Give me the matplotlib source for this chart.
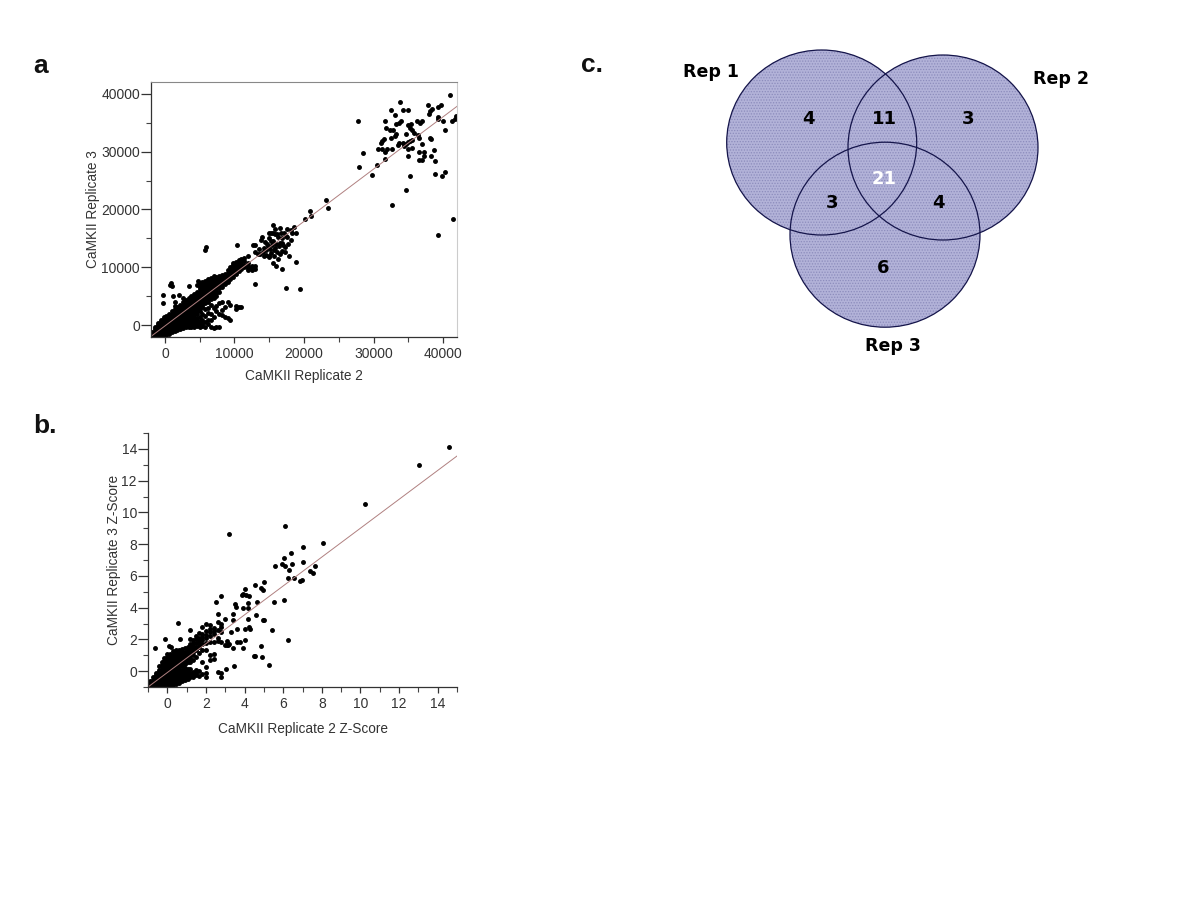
#Scatter plots of CaMKII replicates with Venn diagram of hits

import matplotlib
matplotlib.use('Agg')
import matplotlib.pyplot as plt
from matplotlib.patches import Ellipse
from matplotlib.ticker import MultipleLocator

plt.rcParams['font.family'] = ['Liberation Sans', 'DejaVu Sans']
plt.rcParams['hatch.linewidth'] = 0.6

#Panel a: raw values, x -> list of y for the dense part
a_cloud = {
    -1800: [-1900, -1500, -1200],
    -1400: [-1900, -1500, -1100, -700, -300],
    -1000: [-1900, -1500, -1100, -700, -300, 100, 400],
    -600: [-1800, -1400, -1000, -600, -200, 200, 600, 900],
    -200: [-1700, -1300, -900, -500, -100, 300, 700, 1100, 1400],
    200: [-1600, -1200, -800, -400, 0, 400, 800, 1200, 1700],
    600: [-1400, -1000, -600, -200, 200, 600, 1000, 1400, 2000],
    1000: [-1200, -800, -400, 0, 400, 800, 1200, 1600, 2000, 2400],
    1400: [-1000, -600, -200, 200, 600, 1000, 1400, 1800, 2200, 2800, 3300],
    1800: [-800, -400, 0, 400, 800, 1200, 1600, 2000, 2400, 2800, 3200],
    2200: [-600, -200, 200, 600, 1000, 1400, 1800, 2200, 2600, 3000, 3600],
    2600: [-400, 0, 400, 800, 1200, 1600, 2000, 2400, 2800, 3200, 3600, 4000],
    3000: [-300, 100, 500, 900, 1300, 1700, 2100, 2500, 2900, 3300, 3700, 4300],
    3400: [-200, 200, 600, 1000, 1400, 1800, 2200, 2600, 3000, 3400, 3800, 4200, 4700],
    3800: [-200, 200, 600, 1000, 1400, 1800, 2200, 2600, 3000, 3400, 3800, 4200, 4600, 5000],
    4200: [-200, 200, 600, 1000, 1500, 1900, 2300, 2700, 3100, 3500, 3900, 4300, 4700, 5400],
    4600: [-100, 300, 700, 1200, 2000, 2500, 2900, 3300, 3700, 4100, 4500, 4900, 5300, 5800, 6900],
    5000: [-300, 200, 700, 1500, 2500, 3000, 3400, 3800, 4200, 4600, 5000, 5400, 5800, 6200, 6600, 7300],
    5400: [-100, 300, 1000, 2000, 3200, 3600, 4000, 4400, 4800, 5200, 5600, 6000, 6500, 7000, 7500],
    5800: [-200, 600, 1700, 2800, 3900, 4300, 4700, 5100, 5500, 5900, 6300, 6700, 7100, 7700],
    6200: [300, 900, 2200, 3000, 4100, 4500, 5000, 5500, 5900, 6300, 6700, 7200, 7600, 8000],
    6600: [-300, 1000, 2000, 3500, 4500, 5000, 5400, 5800, 6200, 6600, 7000, 7400, 7900, 8200],
    7000: [-400, 1500, 3000, 4700, 5300, 5700, 6100, 6500, 6900, 7300, 7700, 8200, 8500],
    7400: [-300, 2400, 3400, 5000, 5600, 6000, 6400, 6800, 7200, 7600, 8000, 8400],
    7800: [-300, 2000, 3800, 5700, 6400, 6800, 7200, 7600, 8000, 8500],
    8200: [1800, 2700, 4000, 6700, 7100, 7500, 7900, 8300, 8700],
    8600: [1500, 3200, 7200, 7600, 8000, 8400, 8800],
    9000: [1200, 4000, 7500, 7900, 8300, 8700, 9100, 9500],
    9400: [900, 3500, 8000, 8400, 8800, 9200, 9600, 10000],
    9800: [8400, 8800, 9200, 9600, 10000, 10400, 10700],
    10200: [2800, 3300, 8900, 9300, 9700, 10100, 10500, 10900],
    10600: [3100, 9400, 9800, 10200, 10600, 11000, 11300],
    11000: [3100, 9800, 10200, 10600, 11100, 11400],
    11400: [10000, 10400, 11200, 11600],
    12000: [9600, 9900, 10300, 10800, 11900],
    12500: [9500, 9900, 10300],
    13000: [7100, 9800, 10200],
}
a_sparse_x = [800, 900, -300, -300, 1200, 2000, 3500, 1000, 4800, 5700, 5900, 10400, 12700,
              17400, 19400, 16900, 16000, 15500, 18900, 17800, 13000, 13700, 14100, 14500, 14900,
              15300, 15700, 16100, 16500, 16900, 17300, 17700, 14200, 14800, 15400, 16000, 16600,
              13800, 14400, 15000, 15600, 16200, 16800, 14900, 15500, 17400, 18200, 18500, 15500,
              16500, 17600, 18100, 17100, 18900, 15200, 15800, 20100, 21000, 20900, 23500, 23200,
              14000, 14700, 15100, 15900, 16400, 17000, 13500, 16800, 15300, 14500, 16100, 17500,
              18300, 15700, 13400, 12900, 14300, 15000, 16300, 17200, 15900, 16700, 1500, 2600]
a_sparse_y = [7000, 7400, 5300, 3800, 5000, 5300, 6800, 6800, 7700, 13000, 13500, 13900, 13900,
              6500, 6200, 9800, 10200, 10700, 11000, 11900, 12700, 12300, 12600, 12100, 12000,
              12500, 13000, 12700, 12400, 12800, 13500, 14000, 13300, 13700, 13900, 14000, 14300,
              14800, 14400, 15000, 14600, 15200, 15000, 15900, 16000, 15500, 14800, 17000, 17300,
              16800, 16600, 16500, 16000, 16000, 16000, 15700, 18400, 18800, 19800, 20200, 21700,
              15200, 14100, 13200, 13400, 13700, 13800, 13200, 14200, 14500, 13000, 15700, 15300,
              15900, 11900, 12400, 13900, 12000, 11800, 11500, 12600, 16700, 15900, 4000, 4800]
a_high_x = [41000, 33800, 37900, 39700, 39200, 38400, 32500, 34200, 34900, 38100, 38000, 33100,
            39200, 41800, 41700, 41300, 27700, 31700, 33900, 33700, 33300, 35400, 35000, 37000,
            36300, 36700, 39300, 40000, 31800, 32400, 32800, 35300, 35500, 40300, 33300, 34600,
            35800, 36400, 33100, 32500, 31500, 31200, 31000, 35600, 35200, 36600, 38100, 38300,
            33700, 34200, 34600, 35000, 33500, 34400, 36900, 30700, 31200, 32000, 32700, 31600,
            35000, 35500, 38700, 36600, 37300, 28500, 35000, 37200, 38300, 31600, 36500, 36900,
            38800, 30500, 27900, 29800, 38800, 40300, 39900, 35200, 34600, 32700, 39200, 41400]
a_high_y = [39800, 38500, 38000, 38000, 37700, 37400, 37200, 37100, 37100, 37000, 36400, 36300,
            36000, 36200, 35600, 35300, 35300, 35300, 35300, 35000, 34700, 34700, 34600, 35200,
            35300, 35000, 35600, 35200, 34000, 33800, 33800, 34000, 33700, 33800, 33000, 33000,
            33200, 32900, 32700, 32400, 32200, 31800, 31500, 32000, 31800, 32300, 32400, 32100,
            31500, 31400, 31300, 31600, 31100, 31000, 31300, 30400, 30500, 30400, 30500, 30000,
            30500, 30600, 30200, 30000, 29900, 29800, 29300, 29300, 29300, 28700, 28500, 28600,
            28400, 27600, 27300, 26000, 26200, 26400, 25700, 25700, 23300, 20700, 15600, 18400]
a_fit_x = [-2000, 42000]
a_fit_y = [-1900, 37800]

#Panel b: z-scores, x -> list of y for the dense part
b_cloud = {
    -0.9: [-0.95, -0.8, -0.65],
    -0.75: [-1.0, -0.85, -0.7, -0.55, -0.4],
    -0.6: [-1.0, -0.85, -0.7, -0.55, -0.4, -0.25, -0.1],
    -0.45: [-0.95, -0.8, -0.65, -0.5, -0.35, -0.2, -0.05, 0.1, 0.3],
    -0.3: [-0.95, -0.8, -0.65, -0.5, -0.35, -0.2, -0.05, 0.1, 0.25, 0.4, 0.6],
    -0.15: [-0.9, -0.75, -0.6, -0.45, -0.3, -0.15, 0.0, 0.15, 0.3, 0.45, 0.65, 0.85],
    0.0: [-0.9, -0.75, -0.6, -0.45, -0.3, -0.15, 0.0, 0.15, 0.3, 0.45, 0.6, 0.75, 0.9, 1.1],
    0.15: [-0.85, -0.7, -0.55, -0.4, -0.25, -0.1, 0.05, 0.2, 0.35, 0.5, 0.65, 0.8, 0.95, 1.1],
    0.3: [-0.85, -0.7, -0.55, -0.4, -0.25, -0.1, 0.05, 0.2, 0.35, 0.5, 0.65, 0.8, 0.95, 1.1, 1.25],
    0.45: [-0.8, -0.65, -0.5, -0.35, -0.2, -0.05, 0.1, 0.25, 0.4, 0.55, 0.7, 0.85, 1.0, 1.15, 1.3],
    0.6: [-0.75, -0.6, -0.45, -0.3, -0.15, 0.0, 0.15, 0.3, 0.45, 0.6, 0.75, 0.9, 1.05, 1.2, 1.35],
    0.75: [-0.65, -0.5, -0.35, -0.2, -0.05, 0.1, 0.3, 0.45, 0.6, 0.75, 0.9, 1.05, 1.2, 1.4],
    0.9: [-0.55, -0.4, -0.25, -0.1, 0.05, 0.2, 0.45, 0.6, 0.75, 0.9, 1.05, 1.2, 1.45],
    1.05: [-0.5, -0.35, -0.2, 0.0, 0.15, 0.55, 0.75, 0.9, 1.05, 1.2, 1.35, 1.55],
    1.2: [-0.4, -0.25, -0.1, 0.15, 0.6, 0.8, 1.0, 1.15, 1.3, 1.5, 1.7, 2.0, 2.6],
    1.35: [-0.35, -0.2, -0.05, 0.7, 1.0, 1.2, 1.4, 1.6, 1.8, 1.95],
    1.5: [-0.25, -0.1, 0.1, 0.9, 1.3, 1.55, 1.75, 2.0, 2.2],
    1.65: [-0.3, 0.0, 1.15, 1.5, 1.7, 1.9, 2.1, 2.4],
    1.8: [-0.15, 0.55, 1.35, 1.7, 1.95, 2.15, 2.35, 2.8],
    2.0: [-0.4, -0.1, 0.25, 1.3, 1.8, 2.1, 2.3, 2.5, 3.0],
    2.2: [0.7, 1.0, 1.85, 2.2, 2.45, 2.65, 2.9],
    2.4: [1.05, 0.75, 1.85, 2.35, 2.5, 2.7],
    2.6: [-0.05, 1.9, 2.1, 2.6, 3.6, 3.1],
    2.8: [-0.1, -0.4, 1.85, 2.8, 3.0, 2.45, 4.75],
}
b_sparse_x = [-0.65, -0.1, 0.55, 0.2, 0.65, 0.1, 2.5, 3.0, 3.05, 3.3, 3.4, 3.4, 3.45, 3.5, 3.55,
              3.15, 3.6, 3.2, 3.75, 3.9, 3.85, 3.9, 4.0, 4.05, 4.2, 4.2, 4.25, 4.0, 4.25, 4.55,
              4.6, 4.65, 4.85, 4.95, 5.0, 5.0, 5.55, 5.6, 6.05, 6.05, 5.95, 6.1, 6.25, 6.3, 6.4,
              6.45, 6.55, 7.0, 7.0, 6.85, 6.95, 7.4, 7.55, 7.65, 8.05, 6.1, 3.2, 10.25, 13.05,
              14.6, 4.55, 4.85, 3.0, 3.1, 3.1, 3.6, 3.4, 4.0, 3.9, 4.2, 4.3, 4.5, 4.9, 4.95, 5.25,
              5.4, 6.25]
b_sparse_y = [1.45, 2.0, 3.05, 1.5, 2.0, 1.6, 4.35, 3.3, 0.15, 2.45, 3.6, 3.25, 0.35, 4.2, 4.05,
              1.65, 2.65, 1.7, 1.85, 4.0, 4.8, 4.85, 5.15, 4.8, 4.0, 4.3, 4.75, 2.65, 2.75, 5.4,
              3.55, 4.35, 5.25, 5.1, 5.6, 3.2, 4.35, 6.65, 4.45, 7.1, 6.75, 9.15, 5.85, 6.35, 7.45,
              6.75, 5.85, 7.85, 6.85, 5.7, 5.75, 6.3, 6.15, 6.65, 8.1, 6.6, 8.65, 10.55, 13.0,
              14.1, 0.95, 1.6, 1.65, 1.9, 1.65, 1.85, 1.45, 1.95, 1.45, 3.3, 2.65, 0.95, 0.9, 3.2,
              0.4, 2.6, 1.95]
b_fit_x = [-1, 15]
b_fit_y = [-1, 13.55]

#Panel c: Venn counts and labels
venn_counts = ['4', '11', '3', '3', '21', '4', '6']
venn_colors = ['black', 'black', 'black', 'black', 'white', 'black', 'black']
venn_count_x = [808, 884, 968, 832, 884, 938, 883]
venn_count_y = [119, 119, 119, 203, 179, 203, 268]
rep_names = ['Rep 1', 'Rep 2', 'Rep 3']
rep_x = [711, 1061, 893]
rep_y = [72, 79, 346]
circle_x = [821.7, 943, 885]
circle_y = [142.5, 147.5, 234.7]
circle_w = 190
circle_h = 185

W, H = 1200, 900
GRAY = '#333333'
DOT = dict(s=12.5, marker='o', color='black', linewidths=0)
fig = plt.figure(figsize=(12, 9), dpi=100, facecolor='white')


def pixel_axes(left, top, right, bottom):
    return fig.add_axes([left / W, 1 - bottom / H, (right - left) / W, (bottom - top) / H])


def unpack(cloud):
    xs = [x for x, ys in cloud.items() for y in ys]
    ys_all = [y for x, ys in cloud.items() for y in ys]
    return xs, ys_all


def style_axes(ax):
    for side in ['left', 'bottom']:
        ax.spines[side].set_color(GRAY)
        ax.spines[side].set_linewidth(0.9)
    ax.tick_params(axis='y', which='major', length=7, width=0.9, color=GRAY, labelcolor=GRAY,
                   labelsize=10, pad=1)
    ax.tick_params(axis='x', which='major', length=4, width=0.9, color=GRAY, labelcolor=GRAY,
                   labelsize=10, pad=3)
    ax.tick_params(which='minor', length=3.5, width=0.8, color='#444444')


#Panel a
ax_a = pixel_axes(151, 82, 457, 337)
xs, ys = unpack(a_cloud)
ax_a.scatter(xs, ys, **DOT)
ax_a.scatter(a_sparse_x, a_sparse_y, **DOT)
ax_a.scatter(a_high_x, a_high_y, **DOT)
ax_a.plot(a_fit_x, a_fit_y, color='#b08080', linewidth=0.7)
ax_a.set_xlim(-2000, 42000)
ax_a.set_ylim(-2000, 42000)
ax_a.xaxis.set_major_locator(MultipleLocator(10000))
ax_a.xaxis.set_minor_locator(MultipleLocator(5000))
ax_a.yaxis.set_major_locator(MultipleLocator(10000))
ax_a.yaxis.set_minor_locator(MultipleLocator(5000))
style_axes(ax_a)
ax_a.spines['top'].set_color('#888888')
ax_a.spines['right'].set_color('#cccccc')
ax_a.set_xlabel('CaMKII Replicate 2', fontsize=9.8, color=GRAY, labelpad=6)
ax_a.set_ylabel('CaMKII Replicate 3', fontsize=9.8, color=GRAY, labelpad=0.5)

#Panel b
ax_b = pixel_axes(148, 433, 457, 687)
xs, ys = unpack(b_cloud)
ax_b.scatter(xs, ys, **DOT)
ax_b.scatter(b_sparse_x, b_sparse_y, **DOT)
ax_b.plot(b_fit_x, b_fit_y, color='#b08080', linewidth=0.7)
ax_b.set_xlim(-1, 15)
ax_b.set_ylim(-1, 15)
ax_b.xaxis.set_major_locator(MultipleLocator(2))
ax_b.xaxis.set_minor_locator(MultipleLocator(1))
ax_b.yaxis.set_major_locator(MultipleLocator(2))
ax_b.yaxis.set_minor_locator(MultipleLocator(1))
style_axes(ax_b)
ax_b.spines['top'].set_visible(False)
ax_b.spines['right'].set_visible(False)
ax_b.set_xlabel('CaMKII Replicate 2 Z-Score', fontsize=9.8, color=GRAY, labelpad=8)
ax_b.set_ylabel('CaMKII Replicate 3 Z-Score', fontsize=9.8, color=GRAY, labelpad=0.5)

#Panel c, axes in pixel units
ax_c = pixel_axes(660, 30, 1110, 365)
ax_c.set_xlim(660, 1110)
ax_c.set_ylim(365, 30)
ax_c.axis('off')
for cx, cy in zip(circle_x, circle_y):
    ax_c.add_patch(Ellipse((cx, cy), circle_w, circle_h, facecolor='#b2b2d8',
                           edgecolor='#8c8cbc', hatch='......', linewidth=0))
for cx, cy in zip(circle_x, circle_y):
    ax_c.add_patch(Ellipse((cx, cy), circle_w, circle_h, facecolor='none',
                           edgecolor='#14144a', linewidth=0.9))
for label, x, y, col in zip(venn_counts, venn_count_x, venn_count_y, venn_colors):
    ax_c.text(x, y, label, color=col, fontsize=13, fontweight='bold', family='DejaVu Sans',
              ha='center', va='center')
for label, x, y in zip(rep_names, rep_x, rep_y):
    ax_c.text(x, y, label, color='black', fontsize=12.5, fontweight='bold', family='DejaVu Sans',
              ha='center', va='center')

#Panel letters
fig.text(33 / W, 1 - 73 / H, 'a', fontsize=19, fontweight='bold', color='#111111')
fig.text(33 / W, 1 - 433 / H, 'b.', fontsize=19, fontweight='bold', color='#111111')
fig.text(581 / W, 1 - 72 / H, 'c.', fontsize=19, fontweight='bold', color='#111111')

fig.savefig('out.png', dpi=100, facecolor='white')
